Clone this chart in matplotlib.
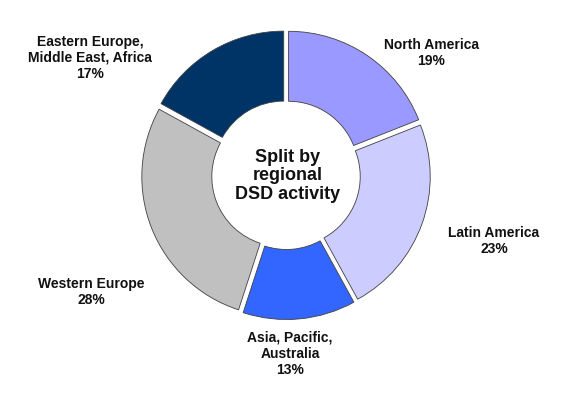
import matplotlib.pyplot as plt

plt.rcParams['font.family'] = ['Liberation Sans', 'DejaVu Sans']

# regions clockwise from 12 o'clock
regions = ['North America', 'Latin America', 'Asia, Pacific,\nAustralia',
           'Western Europe', 'Eastern Europe,\nMiddle East, Africa']
shares = [19, 23, 13, 28, 17]
colors = ['#9999FF', '#CCCCFF', '#3366FF', '#C0C0C0', '#003366']

fig = plt.figure(figsize=(5.65, 3.98), dpi=100)
ax = fig.add_axes([0, 0, 1, 1])

cx, cy, r = 286, 223, 140
ax.pie(shares, colors=colors, startangle=90, counterclock=False,
       center=(cx, cy), radius=r, explode=[4.5] * len(shares),
       wedgeprops=dict(width=r * 0.5, edgecolor='#404040', linewidth=0.6))

ax.set_xlim(0, 565)
ax.set_ylim(0, 398)
ax.set_aspect('equal')
ax.axis('off')

# label positions (pixel space, y from bottom)
label_pos = [(431, 345), (494, 157), (290, 44), (91, 106), (90, 340)]
for name, val, (x, y) in zip(regions, shares, label_pos):
    ax.text(x, y, f'{name}\n{val}%', ha='center', va='center',
            fontsize=10, fontweight='bold', linespacing=1.22, color='#111111')

ax.text(cx + 2, cy - 1, 'Split by\nregional\nDSD activity', ha='center', va='center',
        fontsize=13, fontweight='bold', linespacing=1.1, color='#111111')

fig.savefig('out.png', dpi=100)
